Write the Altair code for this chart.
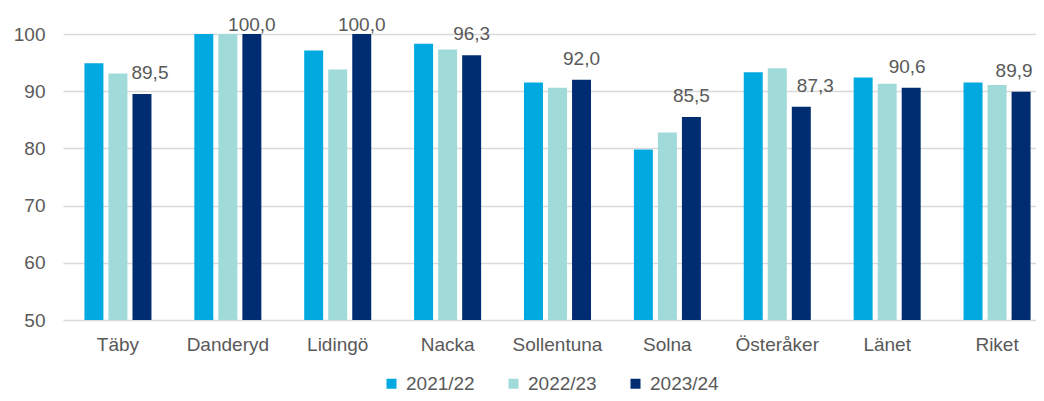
import altair as alt
import pandas as pd

categories = ["Täby", "Danderyd", "Lidingö", "Nacka", "Sollentuna", "Solna", "Österåker", "Länet", "Riket"]
series = ["2021/22", "2022/23", "2023/24"]
v2021 = [94.9, 100.0, 97.1, 98.3, 91.5, 79.8, 93.3, 92.4, 91.5]
v2022 = [93.1, 100.0, 93.8, 97.3, 90.6, 82.8, 94.0, 91.3, 91.1]
v2023 = [89.5, 100.0, 100.0, 96.3, 92.0, 85.5, 87.3, 90.6, 89.9]
colors = ["#00A9E0", "#A0DBDA", "#002D72"]
y_ticks = [50, 60, 70, 80, 90, 100]

rows = []
for s, vals in zip(series, [v2021, v2022, v2023]):
    for c, v in zip(categories, vals):
        rows.append({"kommun": c, "period": s, "value": v,
                     "label": f"{v:.1f}".replace(".", ",")})
df = pd.DataFrame(rows)

FONT = "Liberation Sans"
GREY = "#595959"

x_enc = alt.X("kommun:N", sort=categories,
              scale=alt.Scale(range=[0, 989], paddingInner=0.39, paddingOuter=0.195),
              axis=alt.Axis(title=None, labelAngle=0, domain=False, ticks=False,
                            labelPadding=15, labelFontSize=19, labelColor=GREY,
                            labelFont=FONT, grid=False))
xoff = alt.XOffset("period:N", scale=alt.Scale(domain=series, paddingInner=0.21, paddingOuter=0))
y_enc = alt.Y("value:Q", scale=alt.Scale(domain=[50, 100], nice=False, zero=False),
              axis=alt.Axis(values=y_ticks, title=None, domain=False, ticks=False,
                            labelPadding=18, labelFontSize=19, labelColor=GREY,
                            labelFont=FONT, grid=True, gridColor="#D9D9D9",
                            gridWidth=1.5))

base = alt.Chart(df)

bars = base.mark_bar().encode(
    x=x_enc,
    xOffset=xoff,
    y=y_enc,
    y2=alt.datum(50),
    color=alt.Color("period:N",
                    scale=alt.Scale(domain=series, range=colors),
                    legend=alt.Legend(orient="none", legendX=319, legendY=340,
                                      direction="horizontal", columns=3, title=None,
                                      symbolType="square", symbolSize=100,
                                      symbolStrokeWidth=0, labelFontSize=19,
                                      labelColor=GREY, labelFont=FONT,
                                      columnPadding=29, labelOffset=5, padding=0)),
)

# label placement nudges (style only), as in the original chart
nudges = {"Täby": 8, "Österåker": 14, "Länet": -4, "Riket": -7}


def label_layer(expr, dx, dy):
    return base.transform_filter(expr).mark_text(
        dx=dx, dy=dy, baseline="alphabetic", fontSize=19, color=GREY, font=FONT
    ).encode(
        x=alt.X("kommun:N", sort=categories),
        xOffset=alt.XOffset("period:N"),
        y=alt.Y("value:Q"),
        text="label:N",
    )


nudged = " && ".join(f"datum.kommun != '{k}'" for k in nudges)
layers = [bars,
          label_layer(f"datum.period == '2023/24' && datum.value < 100 && {nudged}", 0, -15),
          label_layer("datum.period == '2023/24' && datum.value >= 100", 0, -3)]
for k, dx in nudges.items():
    layers.append(label_layer(f"datum.period == '2023/24' && datum.kommun == '{k}'", dx, -15))

chart = alt.layer(*layers).properties(
    width=973,
    height=286,
    autosize=alt.AutoSizeParams(type="none"),
    padding={"left": 55, "top": 26, "right": 0, "bottom": 73},
    background="white",
).configure_view(stroke=None)

chart.save("out.html", embed_options={"renderer": "svg", "actions": False})
